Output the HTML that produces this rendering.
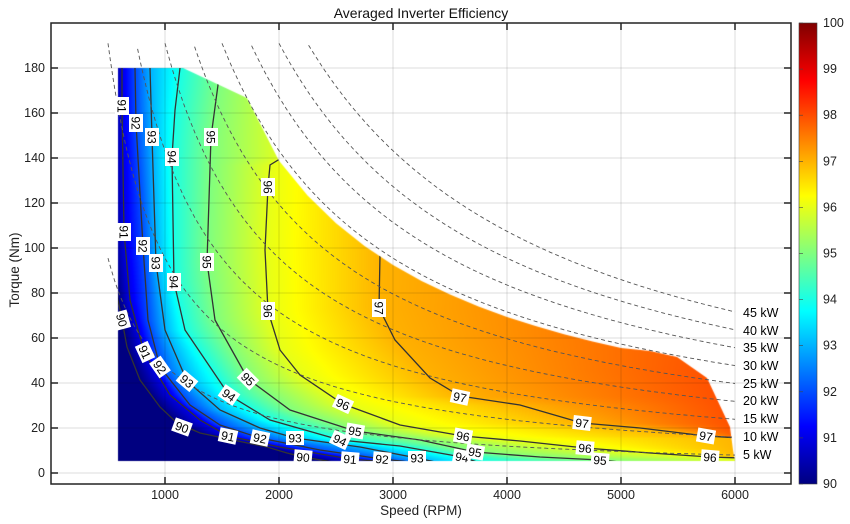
<!DOCTYPE html>
<html><head><meta charset="utf-8">
<style>
html,body{margin:0;padding:0;background:#fff;}
#wrap{position:relative;width:850px;height:524px;overflow:hidden;font-family:"Liberation Sans",sans-serif;}
canvas,svg{position:absolute;left:0;top:0;}
</style></head><body>
<div id="wrap">
<canvas id="cv" width="850" height="524"></canvas>
<svg id="sv" width="850" height="524" viewBox="0 0 850 524" xmlns="http://www.w3.org/2000/svg" font-family="Liberation Sans, sans-serif">
<defs>
<clipPath id="dom"><path id="domp" d=""/></clipPath>
<clipPath id="plot"><rect x="51" y="23" width="740" height="461"/></clipPath>
<linearGradient id="jet" x1="0" y1="1" x2="0" y2="0">
<stop offset="0" stop-color="#000080"/><stop offset="0.125" stop-color="#0000ff"/>
<stop offset="0.375" stop-color="#00ffff"/><stop offset="0.625" stop-color="#ffff00"/>
<stop offset="0.875" stop-color="#ff0000"/><stop offset="1" stop-color="#800000"/>
</linearGradient>
</defs>
<g id="grid" stroke="#000" stroke-opacity="0.13" stroke-width="1"></g>
<g id="cont" clip-path="url(#dom)" fill="none" stroke="#333" stroke-width="1.3"></g>
<g id="pw" clip-path="url(#plot)" fill="none" stroke="#555" stroke-width="0.9" stroke-dasharray="4,3"></g>
<g id="lab" font-size="12" fill="#000"></g>
<rect x="51" y="23" width="740" height="461" fill="none" stroke="#222" stroke-width="1.5"/>
<g id="ticks" stroke="#222" stroke-width="1.5"></g>
<g id="tl" font-size="12.5" fill="#222"></g>
<text x="421" y="18" font-size="14" text-anchor="middle" fill="#111">Averaged Inverter Efficiency</text>
<text x="421" y="515" font-size="13.5" text-anchor="middle" fill="#222">Speed (RPM)</text>
<text transform="translate(19,270) rotate(-90)" font-size="13.5" text-anchor="middle" fill="#222">Torque (Nm)</text>
<rect x="799" y="23" width="18" height="461" fill="url(#jet)" stroke="#444" stroke-width="0.6"/>
<g id="cb" font-size="12.5" fill="#222"></g>
</svg>
</div>
<script>
var NS="http://www.w3.org/2000/svg";
function el(p,tag,attrs,txt){var e=document.createElementNS(NS,tag);for(var k in attrs)e.setAttribute(k,attrs[k]);if(txt!==undefined)e.textContent=txt;p.appendChild(e);return e;}
var L=[
[90,[[112,68],[112,250],[118,300],[122,320],[127,347],[140,380],[160,407],[177,423],[200,433],[233,440],[267,447],[287,453],[303,457],[333,462]]],
[91,[[122,68],[122,106],[124,232],[130,300],[144,352],[170,395],[200,420],[228,436],[280,447],[350,459],[400,463]]],
[92,[[135,68],[136,123],[143,246],[148,320],[160,367],[190,405],[220,425],[260,438],[320,450],[382,459],[420,463]]],
[93,[[150,68],[152,137],[156,263],[165,330],[187,381],[220,410],[260,428],[295,438],[360,447],[417,458],[440,463]]],
[94,[[180,68],[175,110],[172,157],[174,282],[185,330],[229,395],[270,420],[340,440],[400,446],[462,457],[480,463]]],
[95,[[218,68],[218,85],[211,137],[207,262],[215,320],[248,379],[290,410],[355,431],[420,440],[475,452],[540,457],[600,460],[630,463]]],
[96,[[283,68],[283,157],[270,165],[268,187],[265,250],[268,311],[280,350],[300,375],[343,404],[400,425],[463,436],[520,441],[585,448],[650,453],[710,457],[740,458]]],
[97,[[378,68],[378,150],[380,255],[379,308],[395,340],[430,378],[460,396],[520,405],[582,423],[640,428],[706,436],[740,438]]],
[98,[[830,68],[780,250],[745,320],[722,370],[740,430],[760,470]]]
];
function xAt(p,y){if(y<=p[0][1])return p[0][0];var n=p.length;if(y>=p[n-1][1])return p[n-1][0];
for(var i=0;i<n-1;i++){if(y>=p[i][1]&&y<=p[i+1][1]){var d=p[i+1][1]-p[i][1];if(d<=0)return p[i][0];return p[i][0]+(p[i+1][0]-p[i][0])*(y-p[i][1])/d;}}return p[n-1][0];}
function cl(v){return v<0?0:v>1?1:v;}
function jet(t){t=cl(t);return [cl(1.5-Math.abs(4*t-3)),cl(1.5-Math.abs(4*t-2)),cl(1.5-Math.abs(4*t-1))];}
var dom=[[118,68],[183,68],[247,98],[277,157]];
for(var n=2000;n<=5000;n+=250){var T=140*1982/n;dom.push([51+0.114*n,473-2.25*T]);}
dom=dom.concat([[650,351],[677,357],[707,378],[730,427],[733,450],[735,461],[118,461]]);
var dstr="M"+dom.map(function(p){return p[0].toFixed(1)+","+p[1].toFixed(1)}).join("L")+"Z";
document.getElementById("domp").setAttribute("d",dstr);
var cv=document.getElementById("cv"),ctx=cv.getContext("2d");
var off=document.createElement("canvas");off.width=850;off.height=524;var oc=off.getContext("2d");
var img=oc.createImageData(850,524),D=img.data;
for(var y=60;y<=470;y++){
 var xs=L.map(function(l){return xAt(l[1],y);});
 for(var i=1;i<xs.length;i++)if(xs[i]<xs[i-1]+0.5)xs[i]=xs[i-1]+0.5;
 for(var x=110;x<=745;x++){
  var v;
  if(x<xs[0])v=90;
  else if(x>=xs[8])v=98;
  else{for(var k=0;k<8;k++){if(x>=xs[k]&&x<xs[k+1]){v=90+k+(x-xs[k])/(xs[k+1]-xs[k]);break;}}}
  var c=jet((v-90)/10);var o=(y*850+x)*4;
  D[o]=c[0]*255;D[o+1]=c[1]*255;D[o+2]=c[2]*255;D[o+3]=255;
 }
}
oc.putImageData(img,0,0);
ctx.fillStyle="#fff";ctx.fillRect(0,0,850,524);
ctx.save();ctx.clip(new Path2D(dstr));ctx.drawImage(off,0,0);ctx.restore();
var g=document.getElementById("grid"),tk=document.getElementById("ticks"),tl=document.getElementById("tl");
for(var k=1;k<=6;k++){var X=51+114*k;el(g,"line",{x1:X,y1:23,x2:X,y2:484});
 el(tk,"line",{x1:X,y1:484,x2:X,y2:477});el(tk,"line",{x1:X,y1:23,x2:X,y2:30});
 el(tl,"text",{x:X,y:499,"text-anchor":"middle"},String(1000*k));}
for(var k=0;k<=9;k++){var Y=473-45*k;el(g,"line",{x1:51,y1:Y,x2:791,y2:Y});
 el(tk,"line",{x1:51,y1:Y,x2:58,y2:Y});el(tk,"line",{x1:791,y1:Y,x2:784,y2:Y});
 el(tl,"text",{x:45,y:Y+4,"text-anchor":"end"},String(20*k));}
var cg=document.getElementById("cont");
L.slice(0,8).forEach(function(l){el(cg,"polyline",{points:l[1].map(function(p){return p.join(",")}).join(" ")});});
var pw=document.getElementById("pw"),lab=document.getElementById("lab");
var ly={45:313,40:331,35:348,30:366,25:384,20:401,15:419,10:437,5:455};
for(var P=5;P<=45;P+=5){var pts=[];for(var n=500;n<=6000;n+=20){var T=9549*P/n;if(T>191)continue;pts.push((51+0.114*n).toFixed(1)+","+(473-2.25*T).toFixed(1));}
 el(pw,"polyline",{points:pts.join(" ")});
 el(lab,"text",{x:743,y:ly[P]+4,"font-size":12.5},P+" kW");}
var CL=[[91,122,106,90],[92,136,123,90],[93,152,137,90],[94,172,157,90],[95,211,137,90],[96,268,187,90],
[91,124,232,90],[92,143,246,90],[93,156,263,90],[94,174,282,90],[95,207,262,90],[96,268,311,90],[97,379,308,90],[90,122,320,75],
[91,145,352,65],[92,160,367,55],[93,187,381,40],[94,229,395,35],[95,248,379,45],[96,343,404,25],[97,460,397,12],[97,582,423,7],[97,706,436,10],
[90,182,427,20],[91,228,436,12],[92,260,438,12],[93,295,438,0],[94,340,440,25],[95,355,431,10],[96,463,436,10],[96,585,448,5],[96,710,457,5],
[90,303,457,5],[91,350,459,5],[92,382,459,5],[93,417,458,0],[94,462,457,10],[95,475,452,10],[95,600,460,5]];
CL.forEach(function(c){var gg=el(lab,"g",{transform:"translate("+c[1]+","+c[2]+") rotate("+c[3]+")"});
 el(gg,"rect",{x:-9,y:-7,width:18,height:14,fill:"#fff"});
 el(gg,"text",{x:0,y:4.5,"text-anchor":"middle"},String(c[0]));});
var cb=document.getElementById("cb");
for(var k=0;k<=10;k++){var Y=484-46.1*k;el(cb,"text",{x:823,y:Y+4},String(90+k));
 el(cb,"line",{x1:799,y1:Y,x2:803,y2:Y,stroke:"#444","stroke-width":0.6});}
</script>
</body></html>
